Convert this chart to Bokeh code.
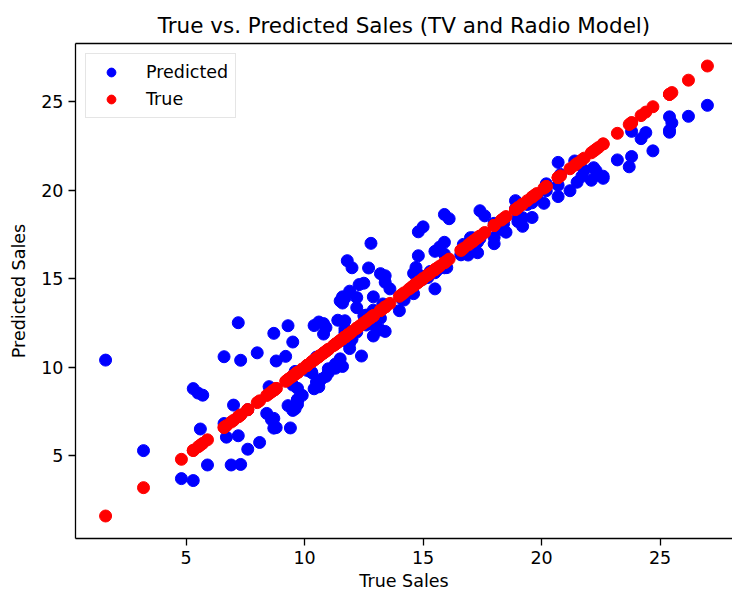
from bokeh.plotting import figure
from bokeh.models import FixedTicker, Range1d, LinearAxis
from bokeh.embed import file_html
from bokeh.resources import INLINE

true_sales = [22.1, 10.4, 9.3, 18.5, 12.9, 7.2, 11.8, 13.2, 4.8, 10.6,
              8.6, 17.4, 9.2, 9.7, 19.0, 22.4, 12.5, 24.4, 11.3, 14.6,
              18.0, 12.5, 5.6, 15.5, 9.7, 12.0, 15.0, 15.9, 18.9, 10.5,
              21.4, 11.9, 9.6, 17.4, 9.5, 12.8, 25.4, 14.7, 10.1, 21.5,
              16.6, 17.1, 20.7, 12.9, 8.5, 14.9, 10.6, 23.2, 14.8, 9.7,
              11.4, 10.7, 22.6, 21.2, 20.2, 23.7, 5.5, 13.2, 23.8, 18.4,
              8.1, 24.2, 15.7, 14.0, 18.0, 9.3, 9.5, 13.4, 18.9, 22.3,
              18.3, 12.4, 8.8, 11.0, 17.0, 8.7, 6.9, 14.2, 5.3, 11.0,
              11.8, 12.3, 11.3, 13.6, 21.7, 15.2, 12.0, 16.0, 12.9, 16.7,
              11.2, 7.3, 19.4, 22.2, 11.5, 16.9, 11.7, 15.5, 25.4, 17.2,
              11.7, 23.8, 14.8, 14.7, 20.7, 19.2, 7.2, 8.7, 5.3, 19.8,
              13.4, 21.8, 14.1, 15.9, 14.6, 12.6, 12.2, 9.4, 15.9, 6.6,
              15.5, 7.0, 11.6, 15.2, 19.7, 10.6, 6.6, 8.8, 24.7, 9.7,
              1.6, 12.7, 5.7, 19.6, 10.8, 11.6, 9.5, 20.8, 9.6, 20.7,
              10.9, 19.2, 20.1, 10.4, 11.4, 10.3, 13.2, 25.4, 10.9, 10.1,
              16.1, 11.6, 16.6, 19.0, 15.6, 3.2, 15.3, 10.1, 7.3, 12.9,
              14.4, 13.3, 14.9, 18.0, 11.9, 11.9, 8.0, 12.2, 17.1, 15.0,
              8.4, 14.5, 7.6, 11.7, 11.5, 27.0, 20.2, 11.7, 11.8, 12.6,
              10.5, 12.2, 8.7, 26.2, 17.6, 22.6, 10.3, 17.3, 15.9, 6.7,
              10.8, 9.9, 5.9, 19.6, 17.3, 7.6, 9.7, 12.8, 25.5, 13.4]

predicted_sales = [20.55, 12.35, 12.34, 17.62, 13.22, 12.51, 11.72, 12.11, 3.71, 12.55,
                   7.04, 17.26, 10.61, 8.81, 18.44, 20.83, 12.90, 23.24, 9.94, 14.15,
                   18.12, 14.74, 6.51, 16.54, 8.14, 15.61, 14.97, 17.05, 19.40, 9.16,
                   21.64, 11.36, 7.65, 18.83, 7.56, 16.99, 23.37, 15.63, 9.91, 20.44,
                   16.38, 17.30, 21.56, 13.97, 8.90, 15.16, 8.89, 21.70, 16.29, 8.18,
                   12.65, 9.32, 20.66, 19.96, 20.35, 21.31, 8.54, 12.76, 21.89, 18.11,
                   5.75, 22.90, 16.78, 13.19, 16.97, 7.83, 8.99, 12.02, 18.95, 21.09,
                   17.78, 10.63, 10.35, 9.91, 17.31, 11.91, 4.48, 13.79, 8.79, 9.68,
                   11.44, 14.66, 10.18, 14.42, 20.77, 15.22, 11.58, 15.62, 11.76, 16.93,
                   9.99, 4.51, 19.18, 21.26, 10.47, 16.33, 12.62, 15.33, 24.13, 16.95,
                   13.90, 23.31, 17.64, 14.75, 20.27, 17.95, 6.13, 7.11, 3.60, 19.66,
                   14.79, 21.12, 13.85, 16.38, 15.30, 12.94, 11.98, 6.57, 15.61, 6.82,
                   14.42, 7.86, 13.62, 15.06, 19.49, 9.13, 10.59, 6.59, 22.21, 7.90,
                   10.40, 15.60, 8.42, 19.28, 11.87, 13.97, 11.42, 20.88, 9.76, 19.63,
                   9.48, 18.44, 19.25, 8.78, 10.10, 9.70, 15.28, 23.26, 12.24, 9.82,
                   18.38, 10.04, 16.34, 18.22, 15.48, 5.29, 15.40, 10.02, 10.39, 12.41,
                   14.22, 13.57, 14.94, 17.32, 11.05, 14.29, 10.81, 13.36, 17.21, 17.92,
                   7.39, 14.38, 7.60, 11.96, 13.74, 24.78, 19.96, 12.17, 16.01, 12.38,
                   10.57, 13.93, 6.56, 24.16, 18.54, 20.78, 9.70, 17.06, 18.62, 6.05,
                   12.46, 8.41, 4.48, 18.45, 16.46, 5.37, 8.15, 12.77, 23.79, 15.16]

tick_values = [5, 10, 15, 20, 25]
title_text = "True vs. Predicted Sales (TV and Radio Model)"

FONT = "DejaVu Sans"

lo = min(true_sales + predicted_sales)
hi = max(true_sales + predicted_sales)
pad = (hi - lo) * 0.05

# the reference picture is cut at its right edge: only 657 of the 662 px
# wide axes box are visible, so the x view ends slightly before hi + pad
FULL_W, SHOWN_W = 662, 657
x_start = lo - pad
x_end = x_start + (hi + pad - x_start) * SHOWN_W / FULL_W

p = figure(frame_width=SHOWN_W, frame_height=495,
           min_border_left=75, min_border_right=0,
           min_border_top=43, min_border_bottom=54,
           output_backend="svg", toolbar_location=None,
           x_range=Range1d(x_start, x_end),
           y_range=Range1d(lo - pad, hi + pad),
           title=title_text)

p.title.align = "center"
p.title.text_font = FONT
p.title.text_font_size = "21.5px"
p.title.text_font_style = "normal"
p.title.text_color = "black"
p.title.standoff = 11

p.xgrid.visible = False
p.ygrid.visible = False
p.outline_line_color = None
p.background_fill_color = "white"
p.border_fill_color = "white"

bottom_axis = p.below[0]
left_axis = p.left[0]

for ax in (bottom_axis, left_axis):
    ax.ticker = FixedTicker(ticks=tick_values)
    ax.minor_tick_line_color = None
    ax.major_tick_in = 0
    ax.major_tick_out = 7
    ax.major_tick_line_color = "black"
    ax.major_tick_line_width = 1.3
    ax.axis_line_color = "black"
    ax.axis_line_width = 1.3
    ax.major_label_text_font = FONT
    ax.major_label_text_font_size = "17.5px"
    ax.major_label_text_color = "black"
    ax.major_label_standoff = 5
    ax.axis_label_text_font = FONT
    ax.axis_label_text_font_size = "17.5px"
    ax.axis_label_text_font_style = "normal"
    ax.axis_label_text_color = "black"

bottom_axis.axis_label = "True Sales"
left_axis.axis_label = "Predicted Sales"
bottom_axis.axis_label_standoff = 4
left_axis.axis_label_standoff = 9

# top spine (plain line along the top of the frame)
top_axis = LinearAxis(ticker=FixedTicker(ticks=[]), axis_line_color="black",
                      axis_line_width=1.3, major_tick_line_color=None,
                      minor_tick_line_color=None, major_label_text_color=None,
                      major_tick_in=0, major_tick_out=0,
                      major_label_standoff=0)
p.add_layout(top_axis, "above")

p.scatter(true_sales, predicted_sales, size=12, color="blue",
          legend_label="Predicted")
p.scatter(true_sales, true_sales, size=12, color="red",
          legend_label="True")

lg = p.legend[0]
lg.location = "top_left"
lg.border_line_color = "#cccccc"
lg.border_line_width = 1
lg.background_fill_alpha = 0.8
lg.label_text_font = FONT
lg.label_text_font_size = "17.5px"
lg.label_text_color = "black"
lg.padding = 7
lg.spacing = 5
lg.margin = 10
lg.glyph_width = 36
lg.glyph_height = 22
lg.label_height = 22
lg.label_standoff = 17

open("out.html", "w").write(file_html(p, INLINE))
